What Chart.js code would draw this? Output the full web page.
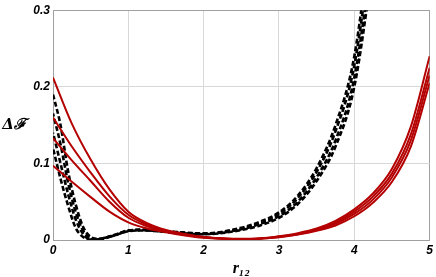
<!DOCTYPE html>
<html>
<head>
<meta charset="utf-8">
<script src="https://cdn.jsdelivr.net/npm/chart.js@4"></script>
<style>
  body { margin: 0; background: #fff; }
  #wrap { width: 436px; height: 277px; }
</style>
</head>
<body>
<div id="wrap"><canvas id="grafico" width="436" height="277"></canvas></div>
<script>
// ---------- dados ----------
const xTicks = [0, 1, 2, 3, 4, 5];
const yTicks = [0, 0.1, 0.2, 0.3];
const xTitle = "r\u2081\u2082";
const yTitle = "\u0394\u2131";

// r das curvas vermelhas
const rRed = [0, 0.25, 0.5, 0.75, 1, 1.25, 1.5, 1.75, 2, 2.25, 2.5, 2.75, 3, 3.25, 3.5, 3.75, 4, 4.25, 4.5, 4.75, 5];
const red1 = [0.212, 0.152, 0.105, 0.066, 0.037, 0.022, 0.013, 0.008, 0.004, 0.002, 0.0015, 0.002, 0.005, 0.009, 0.015, 0.025, 0.040, 0.061, 0.093, 0.148, 0.240];
const red2 = [0.160, 0.122, 0.088, 0.057, 0.033, 0.020, 0.012, 0.007, 0.004, 0.002, 0.0012, 0.002, 0.0045, 0.008, 0.014, 0.023, 0.037, 0.057, 0.087, 0.138, 0.225];
const red3 = [0.133, 0.104, 0.077, 0.050, 0.029, 0.018, 0.011, 0.007, 0.0035, 0.0018, 0.001, 0.0018, 0.004, 0.0075, 0.013, 0.021, 0.034, 0.053, 0.082, 0.130, 0.215];
const red4 = [0.097, 0.076, 0.056, 0.037, 0.023, 0.015, 0.010, 0.006, 0.003, 0.0015, 0.0008, 0.0015, 0.0035, 0.007, 0.012, 0.019, 0.031, 0.049, 0.076, 0.122, 0.205];

// r das curvas pretas (tracejadas)
const rBlack = [0, 0.1, 0.2, 0.3, 0.4, 0.5, 0.6, 0.8, 1.0, 1.2, 1.5, 2.0, 2.5, 2.75, 3.0, 3.25, 3.5, 3.75, 4.0, 4.25];
const black1 = [0.19, 0.15, 0.09, 0.047, 0.017, 0.004, 0.0015, 0.006, 0.0125, 0.0135, 0.0115, 0.0085, 0.016, 0.024, 0.036, 0.058, 0.094, 0.150, 0.240, 0.42];
const black2 = [0.165, 0.125, 0.075, 0.037, 0.012, 0.002, 0.001, 0.006, 0.012, 0.013, 0.011, 0.008, 0.015, 0.022, 0.034, 0.055, 0.089, 0.142, 0.228, 0.40];
const black3 = [0.14, 0.10, 0.06, 0.027, 0.008, 0.001, 0.001, 0.0055, 0.012, 0.013, 0.011, 0.008, 0.014, 0.021, 0.031, 0.050, 0.082, 0.130, 0.212, 0.38];
const black4 = [0.12, 0.08, 0.045, 0.016, 0.004, 0.0005, 0.001, 0.0055, 0.0115, 0.0125, 0.0105, 0.0075, 0.013, 0.019, 0.029, 0.047, 0.077, 0.122, 0.200, 0.36];

const pts = (xs, ys) => xs.map((x, i) => ({ x: x, y: ys[i] }));

const redLine = (ys) => ({
  data: pts(rRed, ys),
  borderColor: "#b40000",
  borderWidth: 2,
  pointRadius: 0,
  fill: false,
  cubicInterpolationMode: "monotone"
});
const blackLine = (ys, off) => ({
  data: pts(rBlack, ys),
  borderColor: "#000000",
  borderWidth: 2.6,
  borderDash: [5, 2.5],
  borderDashOffset: off,
  pointRadius: 0,
  fill: false,
  cubicInterpolationMode: "monotone"
});

// titulo do eixo y, horizontal
const yTitlePlugin = {
  id: "yTitle",
  afterDraw(chart) {
    const c = chart.ctx;
    c.save();
    c.font = 'italic bold 15px "DejaVu Serif", serif';
    c.fillStyle = "#000";
    c.textAlign = "center";
    c.textBaseline = "alphabetic";
    c.fillText(yTitle, 14, 129);
    c.restore();
  }
};

const tickFont = { family: "'Liberation Sans', Arial, sans-serif", size: 12, style: "italic", weight: "bold" };
const edge = "#a0a0a0";
const inner = "#d8d8d8";

new Chart(document.getElementById("grafico").getContext("2d"), {
  type: "line",
  data: {
    datasets: [
      redLine(red1), redLine(red2), redLine(red3), redLine(red4),
      blackLine(black1, 0), blackLine(black2, 2), blackLine(black3, 4), blackLine(black4, 6)
    ]
  },
  options: {
    responsive: false,
    animation: false,
    events: [],
    layout: { padding: { top: 7, right: 4, left: 0, bottom: 0 } },
    plugins: { legend: { display: false }, tooltip: { enabled: false } },
    scales: {
      x: {
        type: "linear",
        min: 0,
        max: 5,
        afterBuildTicks: (s) => { s.ticks = xTicks.map(v => ({ value: v })); },
        afterFit: (s) => { s.height = 37; },
        ticks: { font: tickFont, color: "#000", padding: 3, maxRotation: 0, autoSkip: false },
        grid: {
          drawTicks: false,
          color: (ctx) => (ctx.tick && ctx.tick.value === 5 ? edge : inner),
          lineWidth: 1
        },
        border: { color: edge, width: 1 },
        title: {
          display: true,
          text: xTitle,
          color: "#000",
          font: { family: "'Liberation Serif', 'DejaVu Serif', serif", size: 16, style: "italic", weight: "bold", lineHeight: 1 },
          padding: { top: 0, bottom: 0 }
        }
      },
      y: {
        min: 0,
        max: 0.3,
        afterBuildTicks: (s) => { s.ticks = yTicks.map(v => ({ value: v })); },
        afterFit: (s) => { s.width = 53; },
        ticks: {
          font: tickFont,
          color: "#000",
          padding: 3,
          callback: (v) => String(v)
        },
        grid: {
          drawTicks: false,
          color: (ctx) => (ctx.tick && ctx.tick.value === 0.3 ? edge : inner),
          lineWidth: 1
        },
        border: { color: edge, width: 1 }
      }
    }
  },
  plugins: [yTitlePlugin]
});
</script>
</body>
</html>
